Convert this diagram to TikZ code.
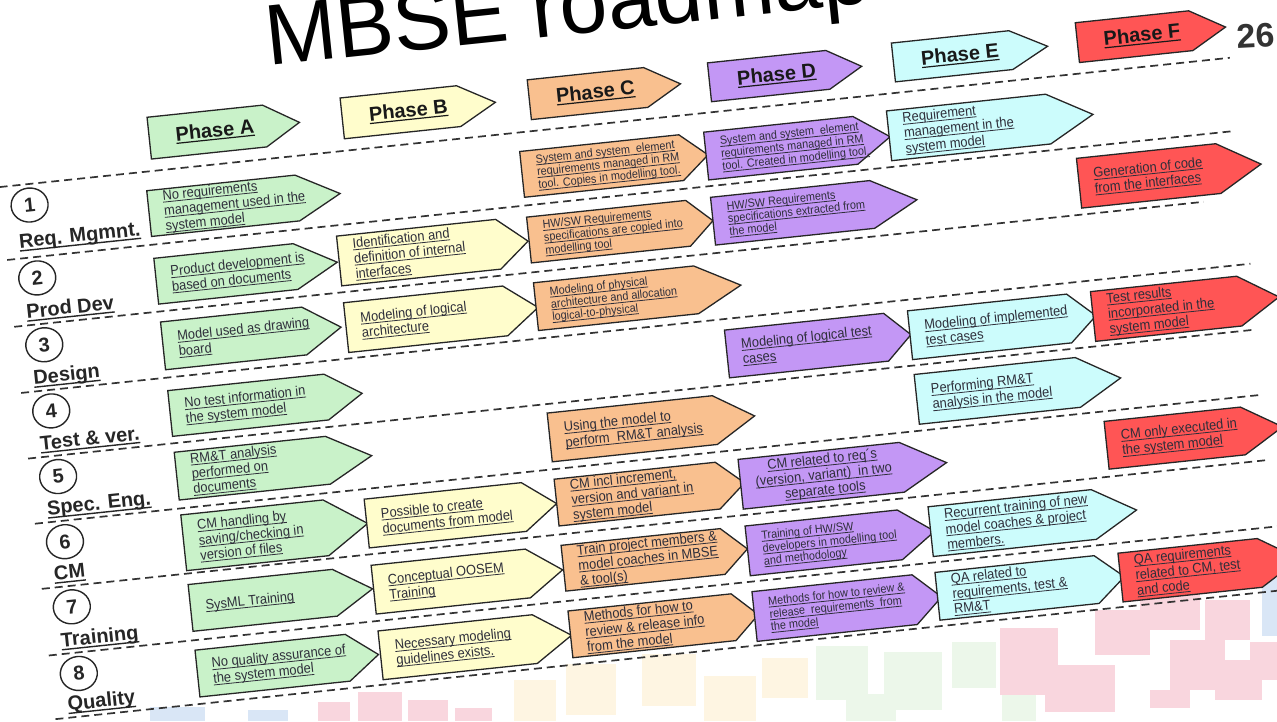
\documentclass[tikz,border=0pt]{standalone}
\usepackage{fontspec}
\setmainfont{Liberation Sans}
\newfontfamily\boxfont{Liberation Sans}[FakeStretch=0.92]
\usetikzlibrary{shapes.geometric}

\definecolor{cA}{HTML}{C9F2C9}
\definecolor{cB}{HTML}{FFFDCC}
\definecolor{cC}{HTML}{F9C08F}
\definecolor{cD}{HTML}{C397F5}
\definecolor{cE}{HTML}{CCFCFC}
\definecolor{cF}{HTML}{FF5555}
\definecolor{txt}{HTML}{2E2E3A}
\definecolor{sqpink}{HTML}{F9D6DE}
\definecolor{sqyellow}{HTML}{FEF5E2}
\definecolor{sqgreen}{HTML}{ECF7EA}
\definecolor{sqblue}{HTML}{D9E6F6}

% underlined line of text (thin, box text)
\newcommand\UL[1]{\setbox0=\hbox{#1}\rlap{\rule[-2.2pt]{\wd0}{0.8pt}}\box0}
% underlined phase title
\newcommand\ULP[1]{\setbox0=\hbox{#1}\rlap{\rule[-2.8pt]{\wd0}{1.2pt}}\box0}
% underlined row label
\newcommand\ULB[1]{\setbox0=\hbox{#1}\rlap{\rule[-3.4pt]{\wd0}{1.4pt}}\box0}

% arrow-shaped cell: name, u, v (top-left), body width, height, tip, fill, text style, text
\newcommand\cellbox[9]{%
  \draw[boxline,fill=#7] (#2,#3) -- ++(#4,0) -- ++(#6,{#5/2}) -- ++(-#6,{#5/2}) -- ++(-#4,0) -- cycle;
  \node[#8,anchor=west] (#1) at ({#2+15},{#3+#5/2}) {#9};}

% phase header: name, u, v, body width, height, tip, fill, title
\newcommand\phasebox[8]{%
  \draw[boxline,fill=#7] (#2,#3) -- ++(#4,0) -- ++(#6,{#5/2}) -- ++(-#6,{#5/2}) -- ++(-#4,0) -- cycle;
  \node[phase] (#1) at ({#2+#4/2+8},{#3+#5/2}) {\ULP{#8}};}

\tikzset{
  boxline/.style={draw=black!85,line width=1.3pt,line join=miter},
  tl/.style={font=\boxfont\fontsize{14}{15.3}\selectfont,text=txt,align=left,inner sep=0pt},
  ts/.style={font=\boxfont\fontsize{11.8}{12.8}\selectfont,text=txt,align=left,inner sep=0pt},
  phase/.style={font=\bfseries\fontsize{20}{21}\selectfont,text=black!90,inner sep=0pt},
  sep/.style={draw=black!80,line width=1.7pt,dash pattern=on 8pt off 5pt},
  num/.style={draw=black!85,line width=1.4pt,ellipse,minimum width=37pt,minimum height=34pt,
              inner sep=0pt,font=\bfseries\fontsize{20}{20}\selectfont,text=black!85},
  lab/.style={font=\bfseries\fontsize{20}{20}\selectfont,text=black!85,inner sep=0pt,anchor=base west},
}

\begin{document}
\begin{tikzpicture}[x=1pt,y=-1pt]
\useasboundingbox (0,0) rectangle (1277,721);
\clip (0,0) rectangle (1277,721);
\fill[white] (0,0) rectangle (1277,721);

% faint logo squares along the bottom
\fill[sqblue] (150,707) rectangle (205,721);
\fill[sqblue] (248,710) rectangle (288,721);
\fill[sqblue] (1262,578) rectangle (1277,636);
\fill[sqpink] (318,702) rectangle (350,721);
\fill[sqpink] (358,692) rectangle (402,721);
\fill[sqpink] (408,700) rectangle (448,721);
\fill[sqpink] (455,708) rectangle (492,721);
\fill[sqyellow] (514,680) rectangle (556,721);
\fill[sqyellow] (566,664) rectangle (616,715);
\fill[sqyellow] (642,654) rectangle (696,706);
\fill[sqyellow] (704,676) rectangle (756,721);
\fill[sqyellow] (762,658) rectangle (808,698);
\fill[sqgreen] (816,646) rectangle (868,700);
\fill[sqgreen] (846,694) rectangle (896,721);
\fill[sqgreen] (884,652) rectangle (942,710);
\fill[sqgreen] (952,642) rectangle (996,688);
\fill[sqgreen] (1002,664) rectangle (1036,721);
\fill[sqpink] (1000,628) rectangle (1058,695);
\fill[sqpink] (1045,665) rectangle (1115,712);
\fill[sqpink] (1095,610) rectangle (1150,655);
\fill[sqpink] (1140,590) rectangle (1200,630);
\fill[sqpink] (1170,640) rectangle (1225,690);
\fill[sqpink] (1205,600) rectangle (1250,640);
\fill[sqpink] (1215,660) rectangle (1262,700);
\fill[sqpink] (1150,690) rectangle (1190,708);
\fill[sqpink] (1250,642) rectangle (1277,680);

% title and page number
\node[anchor=base west,inner sep=0pt,rotate=6,font=\fontsize{86}{86}\selectfont] (title) at (268,66) {MBSE roadmap};
\node[font=\bfseries\fontsize{34}{34}\selectfont,text=black!80,inner sep=0pt,rotate=3] (page) at (1256,36) {26};

\begin{scope}[rotate=6,every node/.append style={transform shape}]
  % row separators
  \foreach \v/\b in {186/1217,259.3/1214,326.5/1176,393/1216,459/1212,524.5/1214,590/1213,657/1240,721/1240}
    \draw[sep] (-20,\v) -- (\b,\v);

  % phase headers
  \phasebox{pa}{134}{132}{116}{42}{35}{cA}{Phase A}
  \phasebox{pb}{328}{133}{117}{41}{37}{cB}{Phase B}
  \phasebox{pc}{516}{134.5}{117}{40}{35}{cC}{Phase C}
  \phasebox{pd}{697}{136.5}{119}{39}{34}{cD}{Phase D}
  \phasebox{pe}{882}{136}{118}{39}{37}{cE}{Phase E}
  \phasebox{pf}{1067}{135}{114}{40}{35}{cF}{Phase F}

  % 1 Req. Mgmnt.
  \cellbox{a1}{126}{205}{149}{46}{43}{cA}{tl}{\UL{No requirements}\\\UL{management used in the}\\\UL{system model}}
  \cellbox{c1}{501}{205}{160}{46}{27}{cC}{ts}{\UL{System and system\ \ element}\\\UL{requirements managed in RM}\\\UL{tool. Copies in modelling tool.}}
  \cellbox{d1}{686}{205}{150}{48}{35}{cD}{ts}{\UL{System and system\ \ element}\\\UL{requirements managed in RM}\\\UL{tool. Created in modelling tool.}}
  \cellbox{e1}{870}{203}{160}{50}{45}{cE}{tl}{\UL{Requirement}\\\UL{management in the}\\\UL{system model}}

  % 2 Prod Dev
  \cellbox{a2}{126}{273}{140}{46}{42}{cA}{tl}{\UL{Product development is}\\\UL{based on documents}}
  \cellbox{b2}{310}{270}{160}{50}{30}{cB}{tl}{\UL{Identification and}\\\UL{definition of internal}\\\UL{interfaces}}
  \cellbox{c2}{501}{271}{160}{46}{25}{cC}{ts}{\UL{HW/SW Requirements}\\\UL{specifications are copied into}\\\UL{modelling tool}}
  \cellbox{d2}{686}{270.5}{160}{48}{45}{cD}{ts}{\UL{HW/SW Requirements}\\\UL{specifications extracted from}\\\UL{the model}}
  \cellbox{f2}{1054}{270}{140}{50}{43}{cF}{tl}{\UL{Generation of code}\\\UL{from the interfaces}}

  % 3 Design
  \cellbox{a3}{126}{337}{142}{48}{37}{cA}{tl}{\UL{Model used as drawing}\\\UL{board}}
  \cellbox{b3}{310}{337}{160}{50}{33}{cB}{tl}{\UL{Modeling of logical}\\\UL{architecture}}
  \cellbox{c3}{501}{337}{161}{48}{45}{cC}{ts}{\UL{Modeling of physical}\\\UL{architecture and allocation}\\\UL{logical-to-physical}}

  % 4 Test & ver.
  \cellbox{a4}{126}{406}{157}{46}{36}{cA}{tl}{\UL{No test information in}\\\UL{the system model}}
  \cellbox{d4}{686}{404}{160}{48}{25}{cD}{tl}{\UL{Modeling of logical test}\\\UL{cases}}
  \cellbox{e4}{870}{404}{160}{49}{27}{cE}{tl}{\UL{Modeling of implemented}\\\UL{test cases}}
  \cellbox{f4}{1054}{404}{147}{50}{40}{cF}{tl}{\UL{Test results}\\\UL{incorporated in the}\\\UL{system model}}

  % 5 Spec. Eng.
  \cellbox{a5}{126}{468}{152}{48}{44}{cA}{tl}{\UL{RM\&T analysis}\\\UL{performed on}\\\UL{documents}}
  \cellbox{c5}{501}{468}{166}{49}{40}{cC}{tl}{\UL{Using the model to}\\\UL{perform\ \ RM\&T analysis}}
  \cellbox{e5}{870}{468}{162}{50}{43}{cE}{tl}{\UL{Performing RM\&T}\\\UL{analysis in the model}}

  % 6 CM
  \cellbox{a6}{126}{531}{143}{56}{42}{cA}{tl}{\UL{CM handling by}\\\UL{saving/checking in}\\\UL{version of files}}
  \cellbox{b6}{310}{534.5}{158}{49}{33}{cB}{tl}{\UL{Possible to create}\\\UL{documents from model}}
  \cellbox{c6}{501}{534.5}{162}{47}{27}{cC}{tl}{\UL{CM incl increment,}\\\UL{version and variant in}\\\UL{system model}}
  \cellbox{d6}{686}{534}{162}{50}{45}{cD}{tl,align=center}{\UL{CM related to req´s}\\\UL{(version, variant)\ \ in two}\\\UL{separate tools}}
  \cellbox{f6}{1054}{534.5}{137}{48}{40}{cF}{tl}{\UL{CM only executed in}\\\UL{the system model}}

  % 7 Training
  \cellbox{a7}{126}{601}{145}{47}{38}{cA}{tl}{\UL{SysML Training}}
  \cellbox{b7}{310}{601}{155}{49}{35}{cB}{tl}{\UL{Conceptual OOSEM}\\\UL{Training}}
  \cellbox{c7}{501}{601}{160}{46}{25}{cC}{tl}{\UL{Train project members \&}\\\UL{model coaches in MBSE}\\\UL{\& tool(s)}}
  \cellbox{d7}{686}{601}{153}{50}{35}{cD}{ts}{\UL{Training of HW/SW}\\\UL{developers in modelling tool}\\\UL{and methodology}}
  \cellbox{e7}{870}{601}{164}{50}{43}{cE}{tl}{\UL{Recurrent training of new}\\\UL{model coaches \& project}\\\UL{members.}}

  % 8 Quality
  \cellbox{a8}{126}{667}{151}{47}{31}{cA}{tl}{\UL{No quality assurance of}\\\UL{the system model}}
  \cellbox{b8}{310}{667}{155}{49}{37}{cB}{tl}{\UL{Necessary modeling}\\\UL{guidelines exists.}}
  \cellbox{c8}{501}{667}{164}{47}{25}{cC}{tl}{\UL{Methods for how to}\\\UL{review \& release info}\\\UL{from the model}}
  \cellbox{d8}{686}{667}{161}{50}{27}{cD}{ts}{\UL{Methods for how to review \&}\\\UL{release\ \ requirements\ \ from}\\\UL{the model}}
  \cellbox{e8}{870}{667}{160}{48}{28}{cE}{tl}{\UL{QA related to}\\\UL{requirements, test \&}\\\UL{RM\&T}}
  \cellbox{f8}{1054}{667}{140}{49}{40}{cF}{tl}{\UL{QA requirements}\\\UL{related to CM, test}\\\UL{and code}}

  % row numbers and row labels
  \node[num] (n1) at (8,207) {1};
  \node[num] (n2) at (8,280.3) {2};
  \node[num] (n3) at (8,347.5) {3};
  \node[num] (n4) at (8,414) {4};
  \node[num] (n5) at (8,480) {5};
  \node[num] (n6) at (8,545.5) {6};
  \node[num] (n7) at (8,611) {7};
  \node[num] (n8) at (8,678) {8};
  \node[lab] (l1) at (-6.5,249) {\ULB{Req. Mgmnt.}};
  \node[lab] (l2) at (-6.5,319.5) {\ULB{Prod Dev}};
  \node[lab] (l3) at (-6.5,386) {\ULB{Design}};
  \node[lab] (l4) at (-6.5,452) {\ULB{Test \& ver.}};
  \node[lab] (l5) at (-6.5,517.5) {\ULB{Spec. Eng.}};
  \node[lab] (l6) at (-6.5,583) {\ULB{CM}};
  \node[lab] (l7) at (-6.5,650) {\ULB{Training}};
  \node[lab] (l8) at (-6.5,714) {\ULB{Quality}};
\end{scope}
\end{tikzpicture}
\end{document}
